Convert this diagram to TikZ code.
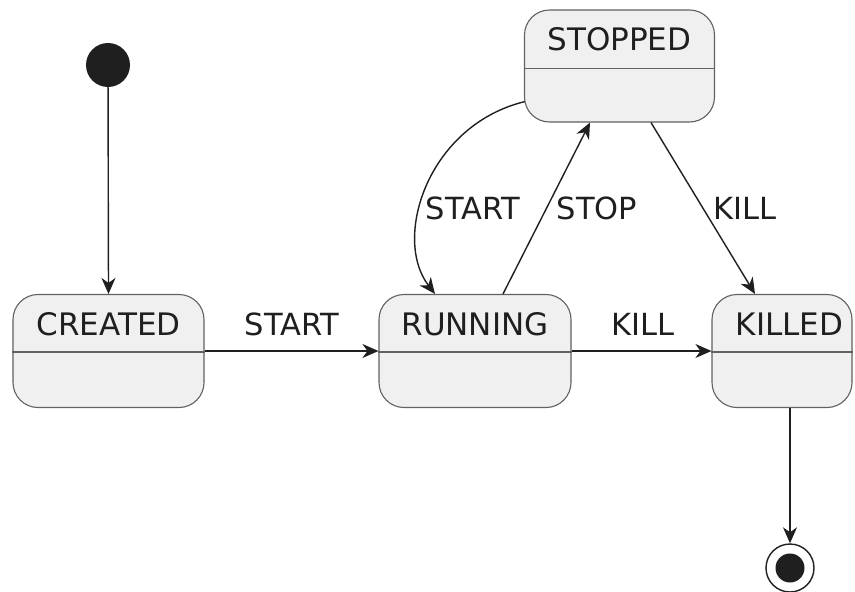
\documentclass[tikz,border=0pt]{standalone}
\usepackage{fontspec}
\setmainfont{DejaVu Sans}
\usetikzlibrary{arrows.meta,calc}

\tikzset{
  statebox/.style={draw=black!62, line width=1.1pt, fill=black!6, rounded corners=25pt,
    inner sep=0pt},
  divider/.style={draw=black!62, line width=1.1pt},
  title/.style={font=\fontsize{31}{34}\selectfont, text=black!88, inner sep=0pt},
  elabel/.style={font=\fontsize{30.5}{33}\selectfont, text=black!88, inner sep=0pt},
  arr/.style={draw=black!88, line width=1.4pt,
    -{Stealth[length=16pt, width=14pt, inset=5pt]}},
}

\begin{document}
\begin{tikzpicture}[x=1pt, y=-1pt]
  \useasboundingbox (0,0) rectangle (855,592);

  % initial pseudo-state
  \node[circle, fill=black!88, minimum size=44pt, inner sep=0pt] (init) at (108,65) {};

  % states: box, title, divider between name and body compartment
  \node[statebox, minimum width=191pt, minimum height=113pt] (created) at (108.5,351) {};
  \node[title] (tcreated) at (108.5,324) {CREATED};
  \draw[divider] ($(created.north west)+(0,58)$) -- ($(created.north east)+(0,58)$);

  \node[statebox, minimum width=192pt, minimum height=113pt] (running) at (475,351) {};
  \node[title] (trunning) at (475,324) {RUNNING};
  \draw[divider] ($(running.north west)+(0,58)$) -- ($(running.north east)+(0,58)$);

  \node[statebox, minimum width=140pt, minimum height=113pt] (killed) at (782,351) {};
  \node[title] (tkilled) at (789.5,324) {KILLED};
  \draw[divider] ($(killed.north west)+(0,58)$) -- ($(killed.north east)+(0,58)$);

  \node[statebox, minimum width=190pt, minimum height=112pt] (stopped) at (619.5,66) {};
  \node[title] (tstopped) at (619.5,39) {STOPPED};
  \draw[divider] ($(stopped.north west)+(0,59)$) -- ($(stopped.north east)+(0,59)$);

  % final pseudo-state
  \node[circle, draw=black!88, line width=1.4pt, fill=white, minimum size=48pt, inner sep=0pt] (final) at (790,568) {};
  \node[circle, fill=black!88, minimum size=29pt, inner sep=0pt] (finaldot) at (790,568) {};

  % transitions
  \draw[arr] (init) -- (created.north);
  \draw[arr] (created.east) -- (running.west);
  \node[elabel] (lstart1) at (292,324) {START};
  \draw[arr] (running.east) -- (killed.west);
  \node[elabel] (lkill1) at (643,324) {KILL};

  \draw[arr] ($(stopped.south west)+(1,-21)$) .. controls (428,125) and (392,238) .. ($(running.north)+(-40,0)$);
  \node[elabel] (lstart2) at (473,208) {START};
  \draw[arr] ($(running.north)+(28,0)$) -- ($(stopped.south)+(-29.5,0)$);
  \node[elabel] (lstop) at (597,208) {STOP};
  \draw[arr] ($(stopped.south)+(31.5,0)$) -- ($(killed.north)+(-27,0)$);
  \node[elabel] (lkill2) at (745,208) {KILL};

  \draw[arr] ($(killed.south)+(8,0)$) -- (final.north);
\end{tikzpicture}
\end{document}
